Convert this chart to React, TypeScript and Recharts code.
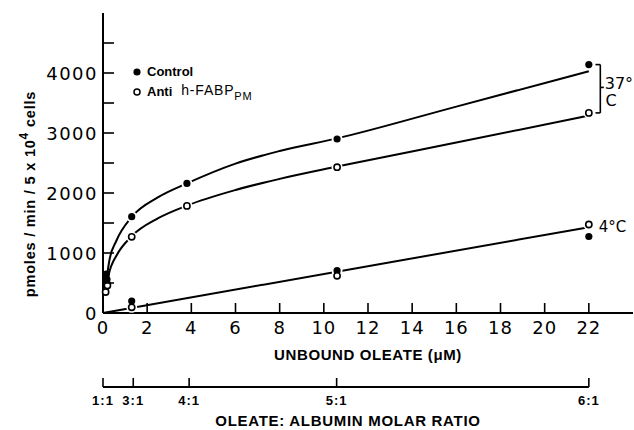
import React from "react";
import {
  ComposedChart,
  Line,
  Scatter,
  XAxis,
  YAxis,
  ReferenceLine,
  ReferenceDot,
} from "recharts";

// axis ticks
const xTicks = [0, 2, 4, 6, 8, 10, 12, 14, 16, 18, 20, 22];
const yTicks = [0, 500, 1000, 1500, 2000, 2500, 3000, 3500, 4000, 4500];
const ratioPositions = [0, 1.37, 3.9, 10.58, 22];
const ratioLabels = ["1:1", "3:1", "4:1", "5:1", "6:1"];

// 37°C measured points
const control37X = [0.15, 0.18, 0.2, 1.3, 3.8, 10.6, 22];
const control37Y = [650, 560, 480, 1605, 2160, 2900, 4140];
const anti37X = [0.12, 0.2, 1.3, 3.8, 10.6, 22];
const anti37Y = [350, 460, 1270, 1785, 2430, 3335];

// 4°C measured points
const control4X = [1.3, 10.6, 22];
const control4Y = [200, 705, 1275];
const anti4X = [1.3, 10.6, 22];
const anti4Y = [95, 620, 1475];

// fitted curves
const curveX = [0.12, 0.3, 0.6, 1.3, 2.5, 3.8, 6, 8, 10.6, 16, 22];
const controlCurveY = [450, 900, 1200, 1600, 1930, 2160, 2490, 2700, 2910, 3440, 4030];
const antiCurveY = [380, 700, 950, 1280, 1580, 1790, 2050, 2235, 2440, 2840, 3290];
const coldLineX = [0, 22];
const coldLineY = [0, 1430];

const toPoints = (xs: number[], ys: number[]) =>
  xs.map((x, i) => ({ x, y: ys[i] }));

const tickFont = "DejaVu Sans, sans-serif";
const labelFont = "Liberation Sans, Arial, sans-serif";

const LeftTick = (props: any) => {
  const { x, y, payload } = props;
  const v = payload.value;
  return (
    <g>
      <line x1={x} x2={x + 11} y1={y} y2={y} stroke="#000" strokeWidth={1.6} />
      {v % 1000 === 0 && (
        <text
          x={x - 5}
          y={y + 6.5}
          textAnchor="end"
          fontSize={18}
          fontFamily={tickFont}
          letterSpacing={1.5}
          fill="#000"
        >
          {v}
        </text>
      )}
    </g>
  );
};

const RightTick = (props: any) => {
  const { x, y } = props;
  return <line x1={x} x2={x - 11} y1={y} y2={y} stroke="#000" strokeWidth={1.6} />;
};

const BottomTick = (props: any) => {
  const { x, y, payload } = props;
  return (
    <g>
      <line x1={x} x2={x} y1={y} y2={y - 10} stroke="#000" strokeWidth={1.6} />
      <text
        x={x}
        y={y + 21}
        textAnchor="middle"
        fontSize={18}
        fontFamily={tickFont}
        letterSpacing={1}
        fill="#000"
      >
        {payload.value}
      </text>
    </g>
  );
};

const RatioTick = (props: any) => {
  const { x, y, payload } = props;
  const i = ratioPositions.indexOf(payload.value);
  return (
    <g>
      <line x1={x} x2={x} y1={y} y2={y - 9} stroke="#000" strokeWidth={1.6} />
      <text
        x={x}
        y={y + 18}
        textAnchor="middle"
        fontSize={13}
        fontWeight="bold"
        fontFamily={labelFont}
        letterSpacing={1}
        fill="#000"
      >
        {ratioLabels[i]}
      </text>
    </g>
  );
};

const Halo = (props: any) => (
  <circle cx={props.cx} cy={props.cy} r={5.5} fill="#fff" />
);

const FilledDot = (props: any) => (
  <circle cx={props.cx} cy={props.cy} r={3.6} fill="#000" />
);

const OpenDot = (props: any) => (
  <circle
    cx={props.cx}
    cy={props.cy}
    r={3.1}
    fill="#fff"
    stroke="#000"
    strokeWidth={1.6}
  />
);

const App = () => {
  const controlCurve = toPoints(curveX, controlCurveY);
  const antiCurve = toPoints(curveX, antiCurveY);
  const coldLine = toPoints(coldLineX, coldLineY);
  const control37 = toPoints(control37X, control37Y);
  const anti37 = toPoints(anti37X, anti37Y);
  const control4 = toPoints(control4X, control4Y);
  const anti4 = toPoints(anti4X, anti4Y);
  // white gaps behind markers, skipped next to the y axis
  const halos = [...control37, ...anti37, ...control4, ...anti4].filter(
    (p) => p.x >= 1
  );
  const ratioLine = ratioPositions.map((x) => ({ x, y: 0 }));

  return (
    <div
      style={{
        position: "fixed",
        left: 8,
        top: 8,
        width: 626,
        height: 422,
        background: "#fff",
      }}
    >
      <ComposedChart
        width={626}
        height={370}
        margin={{ top: 5, right: 1, bottom: 0, left: 0 }}
      >
        <XAxis
          type="number"
          dataKey="x"
          domain={[0, 24]}
          ticks={xTicks}
          interval={0}
          height={65}
          stroke="#000"
          strokeWidth={2}
          tickLine={false}
          tickSize={0}
          tickMargin={0}
          tick={<BottomTick />}
          label={{
            value: "UNBOUND OLEATE (\u03bcM)",
            position: "insideBottom",
            offset: 18,
            fontSize: 15,
            fontWeight: "bold",
            fontFamily: labelFont,
            letterSpacing: 0.6,
            fill: "#000",
          }}
        />
        <XAxis
          xAxisId="top"
          orientation="top"
          type="number"
          dataKey="x"
          domain={[0, 24]}
          height={0}
          stroke="#000"
          strokeWidth={2}
          tick={false}
          tickLine={false}
        />
        <YAxis
          type="number"
          domain={[0, 5000]}
          ticks={yTicks}
          interval={0}
          width={95}
          stroke="#000"
          strokeWidth={2}
          tickLine={false}
          tickSize={0}
          tickMargin={0}
          tick={<LeftTick />}
        />
        <YAxis
          yAxisId="right"
          orientation="right"
          type="number"
          domain={[0, 5000]}
          ticks={yTicks}
          interval={0}
          width={0}
          stroke="#000"
          strokeWidth={2}
          tickLine={false}
          tickSize={0}
          tickMargin={0}
          tick={<RightTick />}
        />

        <Line
          data={controlCurve}
          dataKey="y"
          type="monotone"
          stroke="#000"
          strokeWidth={2}
          dot={false}
          isAnimationActive={false}
        />
        <Line
          data={antiCurve}
          dataKey="y"
          type="monotone"
          stroke="#000"
          strokeWidth={2}
          dot={false}
          isAnimationActive={false}
        />
        <Line
          data={coldLine}
          dataKey="y"
          type="linear"
          stroke="#000"
          strokeWidth={2}
          dot={false}
          isAnimationActive={false}
        />

        <Scatter data={halos} dataKey="y" shape={<Halo />} isAnimationActive={false} />
        <Scatter data={control37} dataKey="y" shape={<FilledDot />} isAnimationActive={false} />
        <Scatter data={control4} dataKey="y" shape={<FilledDot />} isAnimationActive={false} />
        <Scatter data={anti37} dataKey="y" shape={<OpenDot />} isAnimationActive={false} />
        <Scatter data={anti4} dataKey="y" shape={<OpenDot />} isAnimationActive={false} />

        {/* 37°C bracket */}
        <ReferenceLine
          segment={[{ x: 22.52, y: 4140 }, { x: 22.52, y: 3335 }]}
          stroke="#000"
          strokeWidth={1.6}
        />
        <ReferenceLine
          segment={[{ x: 22.3, y: 4140 }, { x: 22.52, y: 4140 }]}
          stroke="#000"
          strokeWidth={1.6}
        />
        <ReferenceLine
          segment={[{ x: 22.3, y: 3335 }, { x: 22.52, y: 3335 }]}
          stroke="#000"
          strokeWidth={1.6}
        />
        <ReferenceLine
          segment={[{ x: 22.52, y: 3760 }, { x: 22.68, y: 3760 }]}
          stroke="#000"
          strokeWidth={1.6}
        />
        <ReferenceDot
          x={22.72}
          y={3830}
          r={0}
          stroke="none"
          label={{
            value: "37\u00b0",
            position: "right",
            offset: 0,
            fontSize: 16,
            fontFamily: tickFont,
            fill: "#000",
          }}
        />
        <ReferenceDot
          x={22.76}
          y={3540}
          r={0}
          stroke="none"
          label={{
            value: "C",
            position: "right",
            offset: 0,
            fontSize: 16,
            fontFamily: tickFont,
            fill: "#000",
          }}
        />
        <ReferenceDot
          x={22.45}
          y={1433}
          r={0}
          stroke="none"
          label={{
            value: "4\u00b0C",
            position: "right",
            offset: 0,
            fontSize: 15,
            fontFamily: tickFont,
            fill: "#000",
          }}
        />
      </ComposedChart>

      {/* oleate : albumin ratio scale */}
      <div style={{ position: "absolute", left: 0, top: 370 }}>
        <ComposedChart
          width={626}
          height={52}
          margin={{ top: 0, right: 1, bottom: 0, left: 95 }}
        >
          <XAxis
            type="number"
            dataKey="x"
            domain={[0, 24]}
            ticks={ratioPositions}
            interval={0}
            height={43}
            axisLine={false}
            tickLine={false}
            tickSize={0}
            tickMargin={0}
            tick={<RatioTick />}
            label={{
              value: "OLEATE: ALBUMIN MOLAR RATIO",
              position: "insideBottom",
              offset: 4,
              dx: -20,
              fontSize: 15,
              fontWeight: "bold",
              fontFamily: labelFont,
              letterSpacing: 0.7,
              fill: "#000",
            }}
          />
          <YAxis hide type="number" domain={[0, 1]} />
          <Line
            data={ratioLine}
            dataKey="y"
            type="linear"
            stroke="#000"
            strokeWidth={1.8}
            dot={false}
            isAnimationActive={false}
          />
        </ComposedChart>
      </div>

      {/* y axis title */}
      <svg
        width={60}
        height={370}
        style={{ position: "absolute", left: 0, top: 0 }}
      >
        <text
          transform="translate(27, 186) rotate(-90)"
          textAnchor="middle"
          fontSize={14.5}
          fontWeight="bold"
          fontFamily={labelFont}
          letterSpacing={0.8}
          fill="#000"
        >
          pmoles / min / 5 x 10
          <tspan dy={-7} fontSize={12}>4</tspan>
          <tspan dy={7}> cells</tspan>
        </text>
      </svg>

      {/* legend */}
      <div
        style={{
          position: "absolute",
          left: 124,
          top: 55,
          fontFamily: labelFont,
          color: "#000",
          lineHeight: "17px",
        }}
      >
        <div style={{ display: "flex", alignItems: "center" }}>
          <svg width={10} height={10} style={{ marginRight: 5 }}>
            <circle cx={5} cy={5} r={3.6} fill="#000" />
          </svg>
          <span style={{ fontSize: 13, fontWeight: "bold", color: "#000" }}>Control</span>
        </div>
        <div style={{ display: "flex", alignItems: "center" }}>
          <svg width={10} height={10} style={{ marginRight: 5 }}>
            <circle cx={5} cy={5} r={3} fill="#fff" stroke="#000" strokeWidth={1.5} />
          </svg>
          <span style={{ fontSize: 13, fontWeight: "bold", color: "#000" }}>Anti</span>
          <span
            style={{
              fontSize: 14,
              marginLeft: 9,
              letterSpacing: 0.8,
              position: "relative",
              top: 2,
              color: "#000",
            }}
          >
            h-FABP
            <sub style={{ fontSize: 11, verticalAlign: "-5px", color: "#000" }}>PM</sub>
          </span>
        </div>
      </div>
    </div>
  );
};

export default App;
